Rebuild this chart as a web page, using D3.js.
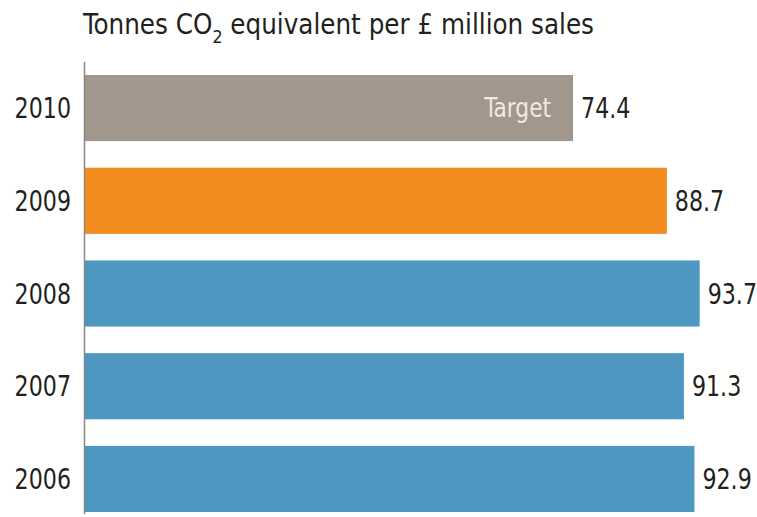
<!DOCTYPE html>
<html>
<head>
<meta charset="utf-8">
<script src="https://cdn.jsdelivr.net/npm/d3@7"></script>
<style>
  html, body { margin: 0; padding: 0; background: #fff; }
  svg { display: block; }
  text { font-family: "DejaVu Sans Condensed", "Liberation Sans", sans-serif; fill: #231f20; }
</style>
</head>
<body>
<svg id="chart" width="757" height="517"></svg>
<script>
// Emissions intensity by year (top row is the target year)
const years = ["2010", "2009", "2008", "2007", "2006"];
const values = [74.4, 88.7, 93.7, 91.3, 92.9];
const kinds = ["target", "current", "past", "past", "past"];
const barLabels = ["Target", "", "", "", ""];

const colours = { target: "#a2978d", current: "#f28c1e", past: "#4d97c0" };

// Horizontal squeeze to give the labels a condensed look
const squeeze = 0.88;

const svg = d3.select("#chart");

const x = d3.scaleLinear().domain([0, 100]).range([85, 741]);
const y = d3.scaleBand().domain(years).range([75, 512]).paddingInner(0.287).paddingOuter(0);

const rows = years.map((yr, i) => ({ year: yr, value: values[i], kind: kinds[i], label: barLabels[i] }));

// Title with subscript
const title = svg.append("text")
  .attr("transform", "translate(83,34) scale(0.98,1)")
  .style("font-size", "28px");
title.append("tspan").text("Tonnes CO");
title.append("tspan").attr("dy", 9).style("font-size", "18px").text("2");
title.append("tspan").attr("dy", -9).text(" equivalent per £ million sales");

// Bars
svg.append("g").selectAll("rect").data(rows).join("rect")
  .attr("x", x(0))
  .attr("y", d => y(d.year))
  .attr("width", d => x(d.value) - x(0))
  .attr("height", y.bandwidth())
  .attr("fill", d => colours[d.kind]);

// Vertical baseline
svg.append("line")
  .attr("x1", x(0) - 0.5).attr("x2", x(0) - 0.5)
  .attr("y1", 62).attr("y2", 514)
  .attr("stroke", "#8c8680").attr("stroke-width", 1.5);

// Year labels via a left axis without domain/ticks
const yAxis = svg.append("g")
  .attr("transform", `translate(${x(0) - 14},0)`)
  .call(d3.axisLeft(y).tickSize(0).tickPadding(0));
yAxis.select(".domain").remove();
yAxis.selectAll("text")
  .style("font-family", "\"DejaVu Sans Condensed\", sans-serif")
  .style("font-size", "28px")
  .attr("fill", "#231f20")
  .attr("x", 0)
  .attr("dy", "0.36em")
  .attr("transform", `scale(${squeeze},1)`);

// Value labels
svg.append("g").selectAll("text").data(rows).join("text")
  .attr("transform", d => `translate(${x(d.value) + 8},${y(d.year) + y.bandwidth() / 2}) scale(${squeeze},1)`)
  .attr("dy", "0.36em")
  .style("font-size", "28px")
  .text(d => d.value.toFixed(1));

// In-bar annotation
svg.append("g").selectAll("text").data(rows.filter(d => d.label)).join("text")
  .attr("transform", d => `translate(${x(d.value) - 22},${y(d.year) + y.bandwidth() / 2}) scale(0.93,1)`)
  .attr("dy", "0.36em")
  .attr("text-anchor", "end")
  .style("font-size", "26px")
  .style("fill", "#f1e9e0")
  .text(d => d.label);
</script>
</body>
</html>
